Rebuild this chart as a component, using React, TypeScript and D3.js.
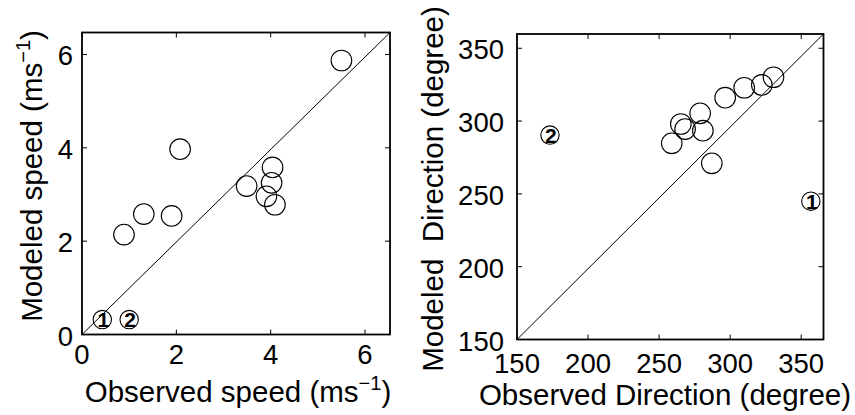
import React from "react";
import * as d3 from "d3";

// Left panel: speed (m/s)
const speedObs = [5.5, 2.08, 4.04, 4.02, 3.49, 3.91, 4.09, 1.31, 1.9, 0.89];
const speedMod = [5.87, 3.97, 3.58, 3.25, 3.18, 2.96, 2.78, 2.58, 2.54, 2.14];
const speedLabeledObs = [0.43, 1.0];
const speedLabeledMod = [0.32, 0.32];
const speedLabels = ["1", "2"];
const speedTicks = [0, 2, 4, 6];

// Right panel: direction (degree)
const dirObs = [330.5, 322.3, 309.9, 296.5, 278.9, 265.3, 268.3, 280.8, 258.9, 287.1];
const dirMod = [330.1, 324.8, 322.9, 316.1, 305.3, 298, 294.5, 293.4, 284.7, 271];
const dirLabeledObs = [356.8, 173.2];
const dirLabeledMod = [245, 290.4];
const dirLabels = ["1", "2"];
const dirTicks = [150, 200, 250, 300, 350];

const FONT = "'Liberation Sans', Arial, Helvetica, sans-serif";

type PanelProps = {
  x0: number; x1: number; y0: number; y1: number;
  xDom: [number, number]; yDom: [number, number];
  ticks: number[];
  obs: number[]; mod: number[];
  lObs: number[]; lMod: number[]; labels: string[];
  xLabel: React.ReactNode; yLabel: React.ReactNode;
  xLabelX: number; xLabelY: number; yLabelX: number; yLabelY: number;
  xTickDy: number; yTickDx: number;
};

function Panel(p: PanelProps) {
  const x = d3.scaleLinear().domain(p.xDom).range([p.x0, p.x1]);
  const y = d3.scaleLinear().domain(p.yDom).range([p.y1, p.y0]);
  const tl = 5;
  return (
    <g>
      <line x1={p.x0} y1={p.y1} x2={p.x1} y2={p.y0} stroke="#000" strokeWidth={1} />
      {p.ticks.map((t) => (
        <g key={"t" + t}>
          <line x1={x(t)} x2={x(t)} y1={p.y1} y2={p.y1 - tl} stroke="#000" />
          <line x1={x(t)} x2={x(t)} y1={p.y0} y2={p.y0 + tl} stroke="#000" />
          <line y1={y(t)} y2={y(t)} x1={p.x0} x2={p.x0 + tl} stroke="#000" />
          <line y1={y(t)} y2={y(t)} x1={p.x1} x2={p.x1 - tl} stroke="#000" />
          <text x={x(t)} y={p.y1 + p.xTickDy} textAnchor="middle" fontSize={27.5} fontFamily={FONT}>{t}</text>
          <text x={p.x0 - p.yTickDx} y={y(t) + 11} textAnchor="end" fontSize={27.5} fontFamily={FONT}>{t}</text>
        </g>
      ))}
      <rect x={p.x0} y={p.y0} width={p.x1 - p.x0} height={p.y1 - p.y0} fill="none" stroke="#000" strokeWidth={1.8} />
      {p.obs.map((v, i) => (
        <circle key={"c" + i} cx={x(v)} cy={y(p.mod[i])} r={10.3} fill="none" stroke="#000" strokeWidth={1.1} />
      ))}
      {p.lObs.map((v, i) => (
        <g key={"l" + i}>
          <circle cx={x(v)} cy={y(p.lMod[i])} r={9.2} fill="none" stroke="#000" strokeWidth={1.1} />
          <text x={x(v) + 1} y={y(p.lMod[i]) + 7.5} textAnchor="middle" fontSize={21} fontWeight="bold" fontFamily={FONT}>{p.labels[i]}</text>
        </g>
      ))}
      <text x={p.xLabelX} y={p.xLabelY} textAnchor="middle" fontSize={29.5} fontFamily={FONT}>{p.xLabel}</text>
      <text transform={`translate(${p.yLabelX},${p.yLabelY}) rotate(-90)`} textAnchor="middle" fontSize={29.5} fontFamily={FONT} style={{ whiteSpace: "pre" }}>{p.yLabel}</text>
    </g>
  );
}

export default function App() {
  const sup = (
    <>
      <tspan>(ms</tspan>
      <tspan fontSize={20} dy={-12}>{"\u22121"}</tspan>
      <tspan dy={12}>)</tspan>
    </>
  );
  return (
    <svg width={855} height={415} style={{ position: "absolute", left: 0, top: 0, background: "#fff" }}>
      <Panel
        x0={82} x1={390} y0={32.5} y1={334.5}
        xDom={[0, 6.53]} yDom={[0, 6.47]}
        ticks={speedTicks}
        obs={speedObs} mod={speedMod}
        lObs={speedLabeledObs} lMod={speedLabeledMod} labels={speedLabels}
        xLabel={<><tspan>Observed speed </tspan>{sup}</>}
        yLabel={<><tspan>Modeled speed </tspan>{sup}</>}
        xLabelX={238} xLabelY={402} yLabelX={42} yLabelY={176}
        xTickDy={29} yTickDx={9}
      />
      <Panel
        x0={517} x1={823.5} y0={34} y1={339.5}
        xDom={[150, 365.7]} yDom={[150, 359.8]}
        ticks={dirTicks}
        obs={dirObs} mod={dirMod}
        lObs={dirLabeledObs} lMod={dirLabeledMod} labels={dirLabels}
        xLabel={"Observed Direction (degree)"}
        yLabel={"Modeled  Direction (degree)"}
        xLabelX={665} xLabelY={405} yLabelX={443} yLabelY={189}
        xTickDy={33.5} yTickDx={13}
      />
    </svg>
  );
}
